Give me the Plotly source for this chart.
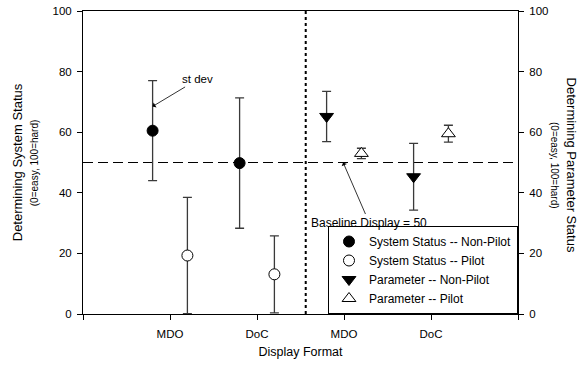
import plotly.graph_objects as go

formats = ["MDO", "DoC"]
sys_nonpilot_mean = [60.5, 49.8]
sys_nonpilot_sd = [16.5, 21.5]
sys_pilot_mean = [19.3, 13.1]
sys_pilot_sd = [19.2, 12.7]
par_nonpilot_mean = [65.2, 45.3]
par_nonpilot_sd = [8.3, 11.0]
par_pilot_mean = [53.0, 59.5]
par_pilot_sd = [1.7, 2.8]
baseline = 50
tick_labels = ["", "MDO", "DoC", "MDO", "DoC", ""]

FONT = "Liberation Sans, Arial, sans-serif"
sys_pos = [1, 2]
par_pos = [3, 4]
off = 0.2
ebar = dict(type="data", visible=True, color="#3a3a3a", thickness=1.3, width=4.5)

fig = go.Figure()
fig.add_trace(go.Scatter(
    x=[p - off for p in sys_pos], y=sys_nonpilot_mean, mode="markers",
    name="System Status -- Non-Pilot",
    marker=dict(symbol="circle", size=11, color="black", line=dict(color="black", width=1)),
    error_y=dict(array=sys_nonpilot_sd, **ebar)))
fig.add_trace(go.Scatter(
    x=[p + off for p in sys_pos], y=sys_pilot_mean, mode="markers",
    name="System Status -- Pilot",
    marker=dict(symbol="circle", size=11, color="white", line=dict(color="black", width=1)),
    error_y=dict(array=sys_pilot_sd, **ebar)))
fig.add_trace(go.Scatter(
    x=[p - off for p in par_pos], y=par_nonpilot_mean, mode="markers",
    name="Parameter -- Non-Pilot",
    marker=dict(symbol="triangle-down", size=12, color="black", line=dict(color="black", width=1)),
    error_y=dict(array=par_nonpilot_sd, **ebar)))
fig.add_trace(go.Scatter(
    x=[p + off for p in par_pos], y=par_pilot_mean, mode="markers",
    name="Parameter -- Pilot",
    marker=dict(symbol="triangle-up", size=12, color="white", line=dict(color="black", width=1)),
    error_y=dict(array=par_pilot_sd, **ebar)))
# invisible trace to activate right axis
fig.add_trace(go.Scatter(x=[0], y=[0], yaxis="y2", mode="markers",
                         marker=dict(opacity=0), showlegend=False, hoverinfo="skip"))

fig.add_shape(type="line", xref="paper", x0=0, x1=1, yref="y", y0=baseline, y1=baseline,
              line=dict(color="black", width=1, dash="10px,5px"), layer="below")
fig.add_shape(type="line", xref="x", x0=2.56, x1=2.56, yref="paper", y0=0, y1=1,
              line=dict(color="black", width=2, dash="dot"), layer="below")

fig.add_annotation(x=0.8, y=68.5, ax=45, ay=-27, text="st dev", showarrow=True,
                   arrowhead=1, arrowsize=1.2, arrowwidth=0.8, arrowcolor="black",
                   font=dict(family=FONT, size=11.5, color="black"))
fig.add_annotation(x=2.99, y=baseline, ax=26, ay=60, text="Baseline Display = 50", showarrow=True,
                   arrowhead=1, arrowsize=1.2, arrowwidth=0.8, arrowcolor="black",
                   font=dict(family=FONT, size=12, color="black"))

fig.add_annotation(xref="paper", yref="paper", x=-0.150, y=0.5, textangle=-90, showarrow=False,
                   text="Determining System Status", font=dict(family=FONT, size=13, color="black"),
                   xanchor="center", yanchor="middle")
fig.add_annotation(xref="paper", yref="paper", x=-0.111, y=0.5, textangle=-90, showarrow=False,
                   text="(0=easy, 100=hard)", font=dict(family=FONT, size=10, color="black"),
                   xanchor="center", yanchor="middle")
fig.add_annotation(xref="paper", yref="paper", x=1.124, y=0.49, textangle=90, showarrow=False,
                   text="Determining Parameter Status", font=dict(family=FONT, size=13, color="black"),
                   xanchor="center", yanchor="middle")
fig.add_annotation(xref="paper", yref="paper", x=1.084, y=0.49, textangle=90, showarrow=False,
                   text="(0=easy, 100=hard)", font=dict(family=FONT, size=10, color="black"),
                   xanchor="center", yanchor="middle")

axis_common = dict(showgrid=False, zeroline=False, showline=True, linecolor="black", linewidth=1,
                   ticks="outside", ticklen=5, tickcolor="black", automargin=False,
                   tickfont=dict(family=FONT, size=11.5, color="black"))
fig.update_layout(
    width=581, height=366,
    margin=dict(l=83, r=63, t=11, b=52),
    paper_bgcolor="white", plot_bgcolor="white",
    font=dict(family=FONT, color="black"),
    xaxis=dict(range=[0, 5], tickvals=[0, 1, 2, 3, 4, 5], ticktext=tick_labels,
               mirror=True, ticklabelstandoff=4,
               title=dict(text="Display Format", font=dict(family=FONT, size=12.5), standoff=8),
               **axis_common),
    yaxis=dict(range=[0, 100], tickvals=[0, 20, 40, 60, 80, 100], ticklabelstandoff=3, **axis_common),
    yaxis2=dict(range=[0, 100], tickvals=[0, 20, 40, 60, 80, 100], overlaying="y", side="right",
                ticklabelstandoff=3, **axis_common),
    legend=dict(x=1, y=0, xanchor="right", yanchor="bottom", bgcolor="white",
                bordercolor="black", borderwidth=1, tracegroupgap=0,
                font=dict(family=FONT, size=12, color="black")),
    showlegend=True,
)
fig.write_html("out.html", config={"displayModeBar": False},
               post_script="document.body.style.margin='0';document.body.style.padding='0';")
